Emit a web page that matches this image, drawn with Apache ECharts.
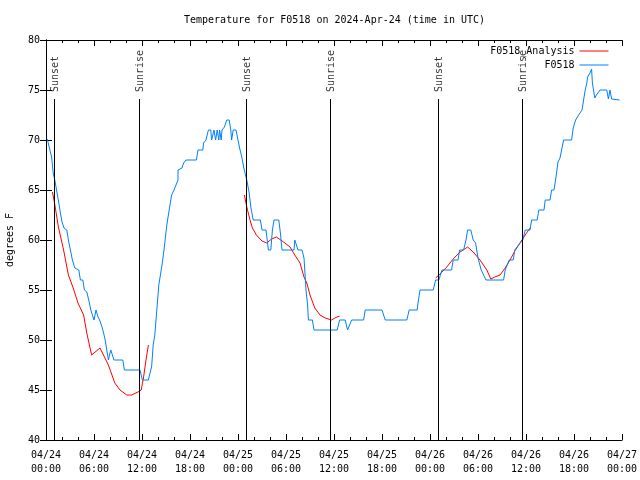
<!DOCTYPE html>
<html>
<head>
<meta charset="utf-8">
<script src="https://cdn.jsdelivr.net/npm/echarts@6/dist/echarts.min.js"></script>
<style>html,body{margin:0;padding:0;background:#fff;}#c{width:640px;height:480px;}</style>
</head>
<body>
<div id="c"></div>
<script>
// x values are hours since 2024-04-24 00:00 UTC
var xTickLabels = ["04/24\n00:00","04/24\n06:00","04/24\n12:00","04/24\n18:00","04/25\n00:00","04/25\n06:00","04/25\n12:00","04/25\n18:00","04/26\n00:00","04/26\n06:00","04/26\n12:00","04/26\n18:00","04/27\n00:00"];
var yTicks = [40,45,50,55,60,65,70,75,80];

var sunTimes = [1, 11.625, 25, 35.5, 49, 59.5];
var sunLabels = ["Sunset","Sunrise","Sunset","Sunrise","Sunset","Sunrise"];

var analysisSeg1 = [[0.8,64.8],[1.05,63.8],[1.55,61.3],[2.2,59],[2.8,56.5],[3.4,55.2],[4.0,53.7],[4.7,52.5],[5.1,50.7],[5.7,48.5],[6.75,49.2],[7.8,47.5],[8.6,45.7],[9.25,45],[10.1,44.5],[10.7,44.5],[11.5,44.8],[11.9,45],[12.2,46.3],[12.5,48],[12.8,49.5]];
var analysisSeg2 = [[24.8,64.5],[25.1,63.3],[25.5,62],[25.8,61.2],[26.3,60.5],[27.0,59.9],[27.6,59.7],[28.2,60.1],[28.8,60.3],[29.7,59.8],[30.5,59.3],[31.1,58.5],[31.75,57.7],[32.25,56.3],[32.6,55.7],[33.0,54.5],[33.6,53.2],[34.25,52.5],[34.9,52.2],[35.7,52],[36.1,52.2],[36.7,52.4]];
var analysisSeg3 = [[48.7,56.2],[49.25,56.6],[50.1,57.3],[50.9,58.1],[51.75,58.8],[52.7,59.3],[53.4,58.8],[54.25,58],[55.1,57],[55.6,56.1],[56.1,56.3],[56.75,56.5],[57.4,57.2],[58.0,58],[58.6,58.9],[59.25,59.7],[59.9,60.5],[60.6,61.3]];

var obs = [[0.16,70.1],[0.4,70],[0.7,68.3],[0.9,66.7],[1.1,66],[1.6,63.7],[1.8,62.7],[2.0,61.8],[2.25,61.2],[2.6,61],[2.8,60],[3.1,58.8],[3.3,58],[3.6,57.2],[3.8,57],[4.1,57],[4.3,56],[4.6,56],[4.8,55],[5.1,54.8],[5.4,53.8],[5.6,53],[5.8,53],[6.0,52],[6.25,53],[6.5,52.3],[6.7,52],[7.0,51.3],[7.2,50.7],[7.4,50],[7.6,50],[7.8,48],[8.0,48.7],[8.1,49],[8.3,49],[8.5,48],[9.6,48],[9.8,47],[11.75,47],[12.05,46],[12.8,46],[13.0,46.7],[13.2,47.3],[13.4,49.5],[13.6,50.5],[13.8,52.5],[14.1,55.5],[14.5,57.5],[14.75,59],[15.1,61.5],[15.4,63],[15.7,64.5],[16.0,65],[16.25,65.2],[16.5,66],[16.5,67],[17.0,67.2],[17.2,67.7],[17.5,68],[18.8,68],[19.0,69],[19.6,69],[19.7,69.7],[20.0,70],[20.3,71],[20.6,71],[20.7,70],[21.0,71],[21.2,70],[21.4,71],[21.6,70],[21.7,71],[21.9,70],[22.0,71],[22.3,71.3],[22.6,72],[22.9,72],[23.1,71],[23.2,70],[23.4,71],[23.75,71],[24.0,70],[24.2,69.2],[24.5,68.2],[24.7,67.3],[25.0,66.3],[25.1,66],[25.4,64.7],[25.6,63.3],[25.9,62],[26.8,62],[27.0,61],[27.5,61],[27.8,59],[28.1,59],[28.3,61],[28.5,62],[29.1,62],[29.3,60.7],[29.5,59],[31.0,59],[31.1,60],[31.3,60],[31.5,59],[32.0,59],[32.25,58.2],[32.5,55],[32.7,53.5],[32.8,52],[33.3,52],[33.5,51],[36.4,51],[36.7,52],[37.4,52],[37.7,51],[37.9,51],[38.2,52],[39.7,52],[39.9,53],[42.0,53],[42.4,52],[45.1,52],[45.4,53],[46.4,53],[46.5,53.7],[46.75,55],[48.4,55],[48.7,56],[49.1,56],[49.5,57],[50.7,57],[50.9,58],[51.5,58],[51.7,59],[52.2,59],[52.5,60],[52.7,61],[53.1,61],[53.4,60],[53.7,59.7],[54.0,58.2],[54.4,57],[55.0,56],[57.2,56],[57.4,57],[57.9,58],[58.4,58],[58.6,59],[59.25,59.7],[59.6,60],[59.9,61],[60.5,61],[60.7,62],[61.4,62],[61.6,63],[62.25,63],[62.4,64],[63.0,64],[63.2,65],[63.5,65],[63.75,66.3],[64.0,67.8],[64.25,68.2],[64.5,69.2],[64.7,70],[65.7,70],[65.9,71.2],[66.2,72],[66.5,72.4],[67.0,73],[67.2,74],[67.4,75],[67.6,75.7],[67.7,76.3],[68.0,76.7],[68.2,77.1],[68.3,75.7],[68.6,74.2],[68.8,74.5],[69.25,75],[70.1,75],[70.3,74.1],[70.5,75],[70.7,74.1],[70.9,74],[71.7,74]];

var FONT = "DejaVu Sans Mono";
var analysisData = analysisSeg1.concat([[13, null]], analysisSeg2, [[37, null]], analysisSeg3);

var chart = echarts.init(document.getElementById('c'), null, {renderer: 'canvas'});
var axisLineStyle = {color: '#000', width: 1};
chart.setOption({
  animation: false,
  backgroundColor: '#fff',
  title: {
    text: 'Temperature for F0518 on 2024-Apr-24 (time in UTC)',
    left: 179, top: 10,
    textStyle: {fontFamily: FONT, fontSize: 10, fontWeight: 'normal', color: '#000'}
  },
  legend: {
    data: ['F0518_Analysis', 'F0518'],
    orient: 'vertical',
    right: 26, top: 41,
    align: 'right',
    itemWidth: 29, itemHeight: 10, itemGap: 4,
    itemStyle: {opacity: 0},
    lineStyle: {width: 1, opacity: 1},
    textStyle: {fontFamily: FONT, fontSize: 10, color: '#000'}
  },
  grid: {left: 46, right: 18, top: 40, bottom: 40, containLabel: false, outerBoundsMode: 'none'},
  xAxis: [{
    type: 'value', min: 0, max: 72, interval: 6, position: 'bottom',
    axisLine: {lineStyle: axisLineStyle},
    axisTick: {inside: true, length: 6, lineStyle: axisLineStyle},
    minorTick: {show: true, splitNumber: 3, length: 3, lineStyle: axisLineStyle},
    splitLine: {show: false},
    axisLabel: {
      margin: 8, lineHeight: 14, fontFamily: FONT, fontSize: 10, color: '#000',
      formatter: function (v) { return xTickLabels[Math.round(v / 6)]; }
    }
  }, {
    type: 'value', min: 0, max: 72, interval: 6, position: 'top',
    axisLine: {lineStyle: axisLineStyle},
    axisTick: {inside: true, length: 6, lineStyle: axisLineStyle},
    minorTick: {show: true, splitNumber: 3, length: 3, lineStyle: axisLineStyle},
    splitLine: {show: false},
    axisLabel: {show: false}
  }],
  yAxis: [{
    type: 'value', min: yTicks[0], max: yTicks[yTicks.length - 1], interval: 5, position: 'left',
    name: 'degrees F', nameLocation: 'middle', nameRotate: 90, nameGap: 31,
    nameTextStyle: {fontFamily: FONT, fontSize: 10, color: '#000'},
    axisLine: {show: true, lineStyle: axisLineStyle},
    axisTick: {show: true, inside: true, length: 6, lineStyle: axisLineStyle},
    splitLine: {show: false},
    axisLabel: {margin: 6, fontFamily: FONT, fontSize: 10, color: '#000'}
  }, {
    type: 'value', min: yTicks[0], max: yTicks[yTicks.length - 1], interval: 5, position: 'right',
    axisLine: {show: true, lineStyle: axisLineStyle},
    axisTick: {show: true, inside: true, length: 6, lineStyle: axisLineStyle},
    splitLine: {show: false},
    axisLabel: {show: false}
  }],
  series: [{
    name: 'F0518_Analysis', type: 'line', data: analysisData,
    showSymbol: false, symbol: 'none', connectNulls: false,
    lineStyle: {color: '#ff0000', width: 1}, itemStyle: {color: '#ff0000'}, z: 2
  }, {
    name: 'F0518', type: 'line', data: obs,
    showSymbol: false, symbol: 'none',
    lineStyle: {color: '#0080ff', width: 1}, itemStyle: {color: '#0080ff'}, z: 3
  }, {
    name: 'events', type: 'scatter', silent: true, z: 4,
    symbolSize: 0,
    data: sunTimes.map(function (t) { return [t, 74.8]; }),
    label: {
      show: true, position: [1, 0], rotate: 90, align: 'left', verticalAlign: 'middle',
      fontFamily: FONT, fontSize: 10, color: '#000',
      formatter: function (p) { return sunLabels[p.dataIndex]; }
    },
    markLine: {
      silent: true, symbol: ['none', 'none'], animation: false,
      label: {show: false},
      lineStyle: {color: '#000', width: 1, type: 'solid'},
      data: sunTimes.map(function (t) { return [{coord: [t, 40]}, {coord: [t, 74.1]}]; })
    }
  }]
});
</script>
</body>
</html>
